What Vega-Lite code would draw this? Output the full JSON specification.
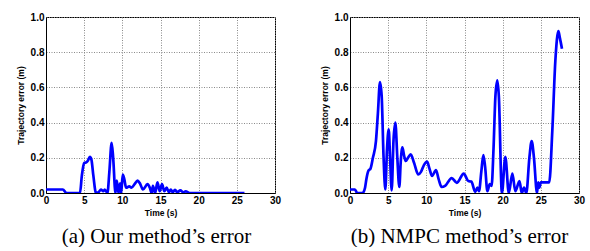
{
  "$schema": "https://vega.github.io/schema/vega-lite/v6.json",
  "padding": {"left": 15, "top": 11, "right": 0, "bottom": 0},
  "spacing": 37,
  "background": "white",
  "config": {
    "view": {"stroke": "black", "strokeWidth": 1},
    "axis": {
      "labelFont": "Liberation Sans",
      "labelFontWeight": "bold",
      "labelFontSize": 10,
      "labelColor": "black",
      "titleFont": "Liberation Sans",
      "titleFontWeight": "bold",
      "titleFontSize": 8.5,
      "titleColor": "black",
      "ticks": false,
      "tickSize": 0,
      "labelPadding": 2,
      "domainColor": "black",
      "gridColor": "#8a8a8a",
      "gridDash": [1, 1.5],
      "gridWidth": 1,
      "gridOpacity": 1
    },
    "axisX": {"titlePadding": 3},
    "axisY": {"titlePadding": 5},
    "title": {
      "orient": "bottom",
      "font": "Liberation Serif",
      "fontWeight": "normal",
      "fontSize": 21,
      "color": "black",
      "offset": 9,
      "anchor": "middle"
    }
  },
  "datasets": {
    "ours": [
      {"t": 0, "e": 0.02}, {"t": 1, "e": 0.02}, {"t": 2.2, "e": 0.02}, {"t": 2.7, "e": 0}, {"t": 4.45, "e": 0},
      {"t": 4.7, "e": 0.1}, {"t": 5.0, "e": 0.17}, {"t": 5.3, "e": 0.175}, {"t": 5.5, "e": 0.185}, {"t": 5.75, "e": 0.205},
      {"t": 5.95, "e": 0.19}, {"t": 6.2, "e": 0.1}, {"t": 6.55, "e": 0}, {"t": 6.9, "e": 0.005}, {"t": 7.2, "e": 0.02},
      {"t": 7.5, "e": 0.01}, {"t": 7.7, "e": 0.02}, {"t": 8.05, "e": 0}, {"t": 8.3, "e": 0.12}, {"t": 8.6, "e": 0.285},
      {"t": 8.8, "e": 0.2}, {"t": 9.1, "e": 0}, {"t": 9.27, "e": 0.07}, {"t": 9.5, "e": 0}, {"t": 9.7, "e": 0.055},
      {"t": 9.85, "e": 0}, {"t": 10.05, "e": 0.105}, {"t": 10.25, "e": 0.08}, {"t": 10.5, "e": 0.03}, {"t": 10.9, "e": 0.038},
      {"t": 11.2, "e": 0.03}, {"t": 11.6, "e": 0.05}, {"t": 12.0, "e": 0.07}, {"t": 12.3, "e": 0.055}, {"t": 12.7, "e": 0.02},
      {"t": 13.3, "e": 0.05}, {"t": 13.6, "e": 0.03}, {"t": 13.85, "e": 0}, {"t": 14.0, "e": 0.04}, {"t": 14.3, "e": 0},
      {"t": 14.6, "e": 0.06}, {"t": 14.9, "e": 0.01}, {"t": 15.2, "e": 0.05}, {"t": 15.5, "e": 0.01}, {"t": 15.8, "e": 0.03},
      {"t": 16.1, "e": 0.005}, {"t": 16.35, "e": 0.02}, {"t": 16.6, "e": 0.005}, {"t": 16.9, "e": 0.018}, {"t": 17.2, "e": 0.004},
      {"t": 17.6, "e": 0.015}, {"t": 18.0, "e": 0.003}, {"t": 18.3, "e": 0.01}, {"t": 18.8, "e": 0}, {"t": 26, "e": 0}
    ],
    "nmpc": [
      {"t": 0, "e": 0.02}, {"t": 0.65, "e": 0.02}, {"t": 0.95, "e": 0}, {"t": 1.65, "e": 0}, {"t": 1.97, "e": 0.03},
      {"t": 2.15, "e": 0.08}, {"t": 2.4, "e": 0.125}, {"t": 2.7, "e": 0.14}, {"t": 3.0, "e": 0.2}, {"t": 3.4, "e": 0.295},
      {"t": 3.65, "e": 0.45}, {"t": 3.93, "e": 0.63}, {"t": 4.15, "e": 0.55}, {"t": 4.4, "e": 0.2}, {"t": 4.63, "e": 0.02},
      {"t": 4.85, "e": 0.25}, {"t": 5.07, "e": 0.362}, {"t": 5.25, "e": 0.2}, {"t": 5.46, "e": 0.015}, {"t": 5.7, "e": 0.3},
      {"t": 5.94, "e": 0.4}, {"t": 6.2, "e": 0.2}, {"t": 6.46, "e": 0.034}, {"t": 6.65, "e": 0.18}, {"t": 6.86, "e": 0.26},
      {"t": 7.1, "e": 0.21}, {"t": 7.3, "e": 0.182}, {"t": 7.6, "e": 0.2}, {"t": 7.95, "e": 0.22}, {"t": 8.4, "e": 0.17},
      {"t": 8.95, "e": 0.105}, {"t": 9.3, "e": 0.12}, {"t": 9.7, "e": 0.16}, {"t": 10.1, "e": 0.178}, {"t": 10.4, "e": 0.14},
      {"t": 10.75, "e": 0.097}, {"t": 11.27, "e": 0.13}, {"t": 11.6, "e": 0.08}, {"t": 12.0, "e": 0.034}, {"t": 12.45, "e": 0.04},
      {"t": 13.32, "e": 0.085}, {"t": 14.0, "e": 0.058}, {"t": 14.9, "e": 0.11}, {"t": 15.5, "e": 0.068}, {"t": 15.9, "e": 0.065},
      {"t": 16.4, "e": 0.007}, {"t": 16.7, "e": 0.03}, {"t": 16.9, "e": 0.01}, {"t": 17.2, "e": 0.12}, {"t": 17.47, "e": 0.216},
      {"t": 17.7, "e": 0.15}, {"t": 18.0, "e": 0.01}, {"t": 18.3, "e": 0.05}, {"t": 18.55, "e": 0.04}, {"t": 18.8, "e": 0.25},
      {"t": 19.05, "e": 0.55}, {"t": 19.3, "e": 0.64}, {"t": 19.5, "e": 0.55}, {"t": 19.9, "e": 0}, {"t": 20.35, "e": 0.205},
      {"t": 20.8, "e": 0}, {"t": 21.27, "e": 0.11}, {"t": 21.66, "e": 0.01}, {"t": 22.2, "e": 0.068}, {"t": 22.5, "e": 0},
      {"t": 22.8, "e": 0.03}, {"t": 23.1, "e": 0}, {"t": 23.5, "e": 0.2}, {"t": 23.8, "e": 0.295}, {"t": 24.1, "e": 0.2},
      {"t": 24.5, "e": 0}, {"t": 24.65, "e": 0.06}, {"t": 24.8, "e": 0.03}, {"t": 25.0, "e": 0.06}, {"t": 26.1, "e": 0.06},
      {"t": 26.5, "e": 0.35}, {"t": 26.9, "e": 0.75}, {"t": 27.3, "e": 0.92}, {"t": 27.5, "e": 0.88}, {"t": 27.77, "e": 0.82}
    ]
  },
  "hconcat": [
    {
      "width": 229,
      "height": 176,
      "title": {"text": "(a) Our method’s error", "dx": -4},
      "data": {"name": "ours"},
      "mark": {"type": "line", "color": "#0000ff", "strokeWidth": 2.7, "interpolate": "monotone", "clip": true},
      "encoding": {
        "x": {"field": "t", "type": "quantitative", "scale": {"domain": [0, 30], "nice": false}, "axis": {"title": "Time (s)", "values": [0, 5, 10, 15, 20, 25, 30], "labelFlush": false}},
        "y": {"field": "e", "type": "quantitative", "scale": {"domain": [0, 1], "nice": false}, "axis": {"title": "Trajectory error (m)", "values": [0, 0.2, 0.4, 0.6, 0.8, 1.0], "format": ".1f", "labelFlush": false}}
      }
    },
    {
      "width": 229,
      "height": 176,
      "title": {"text": "(b) NMPC method’s error", "dx": -5},
      "data": {"name": "nmpc"},
      "mark": {"type": "line", "color": "#0000ff", "strokeWidth": 2.7, "interpolate": "monotone", "clip": true},
      "encoding": {
        "x": {"field": "t", "type": "quantitative", "scale": {"domain": [0, 30], "nice": false}, "axis": {"title": "Time (s)", "values": [0, 5, 10, 15, 20, 25, 30], "labelFlush": false}},
        "y": {"field": "e", "type": "quantitative", "scale": {"domain": [0, 1], "nice": false}, "axis": {"title": "Trajectory error (m)", "values": [0, 0.2, 0.4, 0.6, 0.8, 1.0], "format": ".1f", "labelFlush": false}}
      }
    }
  ]
}
